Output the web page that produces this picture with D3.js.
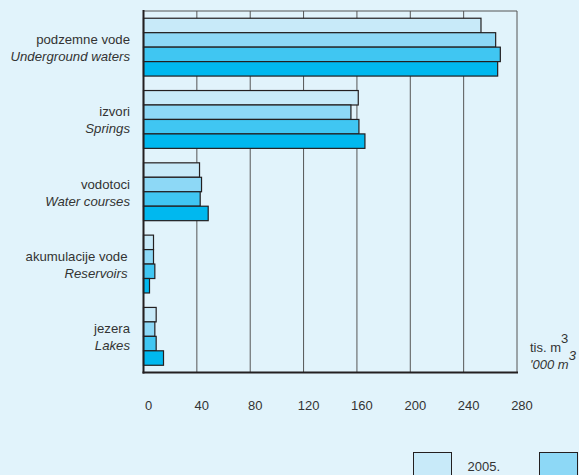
<!DOCTYPE html>
<html>
<head>
<meta charset="utf-8">
<script src="https://cdn.jsdelivr.net/npm/d3@7.9.0/dist/d3.min.js"></script>
<style>
  body { margin: 0; background: #e1f3fb; }
  svg { display: block; font-family: "Liberation Sans", Arial, sans-serif; }
</style>
</head>
<body>
<svg id="chart" width="579" height="475"></svg>
<script>
// categories (local / english)
const catLocal = ["podzemne vode", "izvori", "vodotoci", "akumulacije vode", "jezera"];
const catEnglish = ["Underground waters", "Springs", "Water courses", "Reservoirs", "Lakes"];
const years = ["2005.", "2006.", "2007.", "2008."];
// values in '000 m3, one array per year
const v2005 = [253, 161, 42, 7.5, 9.5];
const v2006 = [264, 155.5, 43.5, 7.5, 8.5];
const v2007 = [267.5, 161.5, 42.5, 8.5, 9.5];
const v2008 = [265.5, 166, 48.5, 4.5, 15];
const series = [v2005, v2006, v2007, v2008];
const ticks = [0, 40, 80, 120, 160, 200, 240, 280];
const colors = ["#c8eaf9", "#8dd8f6", "#40c6f2", "#00b8ef"];

const W = 579;
const svg = d3.select("#chart");
const pLeft = 143.5, pRight = 517, pTop = 11, pBottom = 372.5;

const x = d3.scaleLinear().domain([0, 280]).range([pLeft, pRight]);
const y = d3.scaleBand().domain(catLocal).range([pTop, pBottom])
    .paddingInner(0.2).paddingOuter(0.1);
const yInner = d3.scaleBand().domain(d3.range(series.length))
    .range([0, y.bandwidth()]);

// frame + grid
svg.append("line").attr("x1", pLeft).attr("x2", pRight).attr("y1", pTop).attr("y2", pTop)
    .attr("stroke", "#555").attr("stroke-width", 1);
svg.selectAll(".grid").data(ticks.slice(1)).enter().append("line")
    .attr("x1", d => x(d)).attr("x2", d => x(d))
    .attr("y1", pTop).attr("y2", pBottom)
    .attr("stroke", "#555").attr("stroke-width", 1);

// bars
const groups = svg.selectAll(".grp").data(catLocal).enter().append("g")
    .attr("transform", d => `translate(0,${y(d)})`);
groups.selectAll("rect")
    .data((d, i) => series.map((s, j) => ({ j, v: s[i] })))
    .enter().append("rect")
    .attr("x", x(0))
    .attr("y", d => yInner(d.j))
    .attr("width", d => x(d.v) - x(0))
    .attr("height", yInner.bandwidth())
    .attr("fill", d => colors[d.j])
    .attr("stroke", "#231f20").attr("stroke-width", 1.2);

// axes lines
svg.append("line").attr("x1", pLeft).attr("x2", pLeft).attr("y1", pTop - 1).attr("y2", pBottom + 1)
    .attr("stroke", "#231f20").attr("stroke-width", 2);
svg.append("line").attr("x1", pLeft - 1).attr("x2", pRight + 1).attr("y1", pBottom).attr("y2", pBottom)
    .attr("stroke", "#231f20").attr("stroke-width", 2);

// tick labels
svg.selectAll(".tick").data(ticks).enter().append("text")
    .attr("x", d => x(d) + 5).attr("y", 410)
    .attr("text-anchor", "middle").attr("font-size", 13).attr("fill", "#333")
    .text(d => d);

// category labels
catLocal.forEach((c, i) => {
  const cy = y(c) + y.bandwidth() / 2;
  const rx = i === 3 ? 127.5 : 130;
  svg.append("text").attr("x", rx).attr("y", cy - 3)
      .attr("text-anchor", "end").attr("font-size", 13.2).attr("fill", "#333").text(c);
  svg.append("text").attr("x", rx).attr("y", cy + 14)
      .attr("text-anchor", "end").attr("font-size", 13.2).attr("font-style", "italic")
      .attr("fill", "#333").text(catEnglish[i]);
});

// unit label
const u1 = svg.append("text").attr("x", 530).attr("y", 352).attr("font-size", 13).attr("fill", "#333");
u1.append("tspan").text("tis. m");
u1.append("tspan").attr("dy", -9).text("3");
const u2 = svg.append("text").attr("x", 530).attr("y", 369).attr("font-size", 13)
    .attr("font-style", "italic").attr("fill", "#333");
u2.append("tspan").text("'000 m");
u2.append("tspan").attr("dy", -9).text("3");

// legend (only what fits in the window gets a label)
const legX = i => 413.5 + i * 126;
const leg = svg.selectAll(".leg").data(years.filter((d, i) => legX(i) < W)).enter().append("g")
    .attr("transform", (d, i) => `translate(${legX(i)},452.5)`);
leg.append("rect").attr("width", 38).attr("height", 38)
    .attr("fill", (d, i) => colors[i]).attr("stroke", "#231f20").attr("stroke-width", 1);
leg.filter((d, i) => legX(i) + 90 < W).append("text")
    .attr("x", 54).attr("y", 18).attr("font-size", 13).attr("fill", "#333")
    .text(d => d);
</script>
</body>
</html>
